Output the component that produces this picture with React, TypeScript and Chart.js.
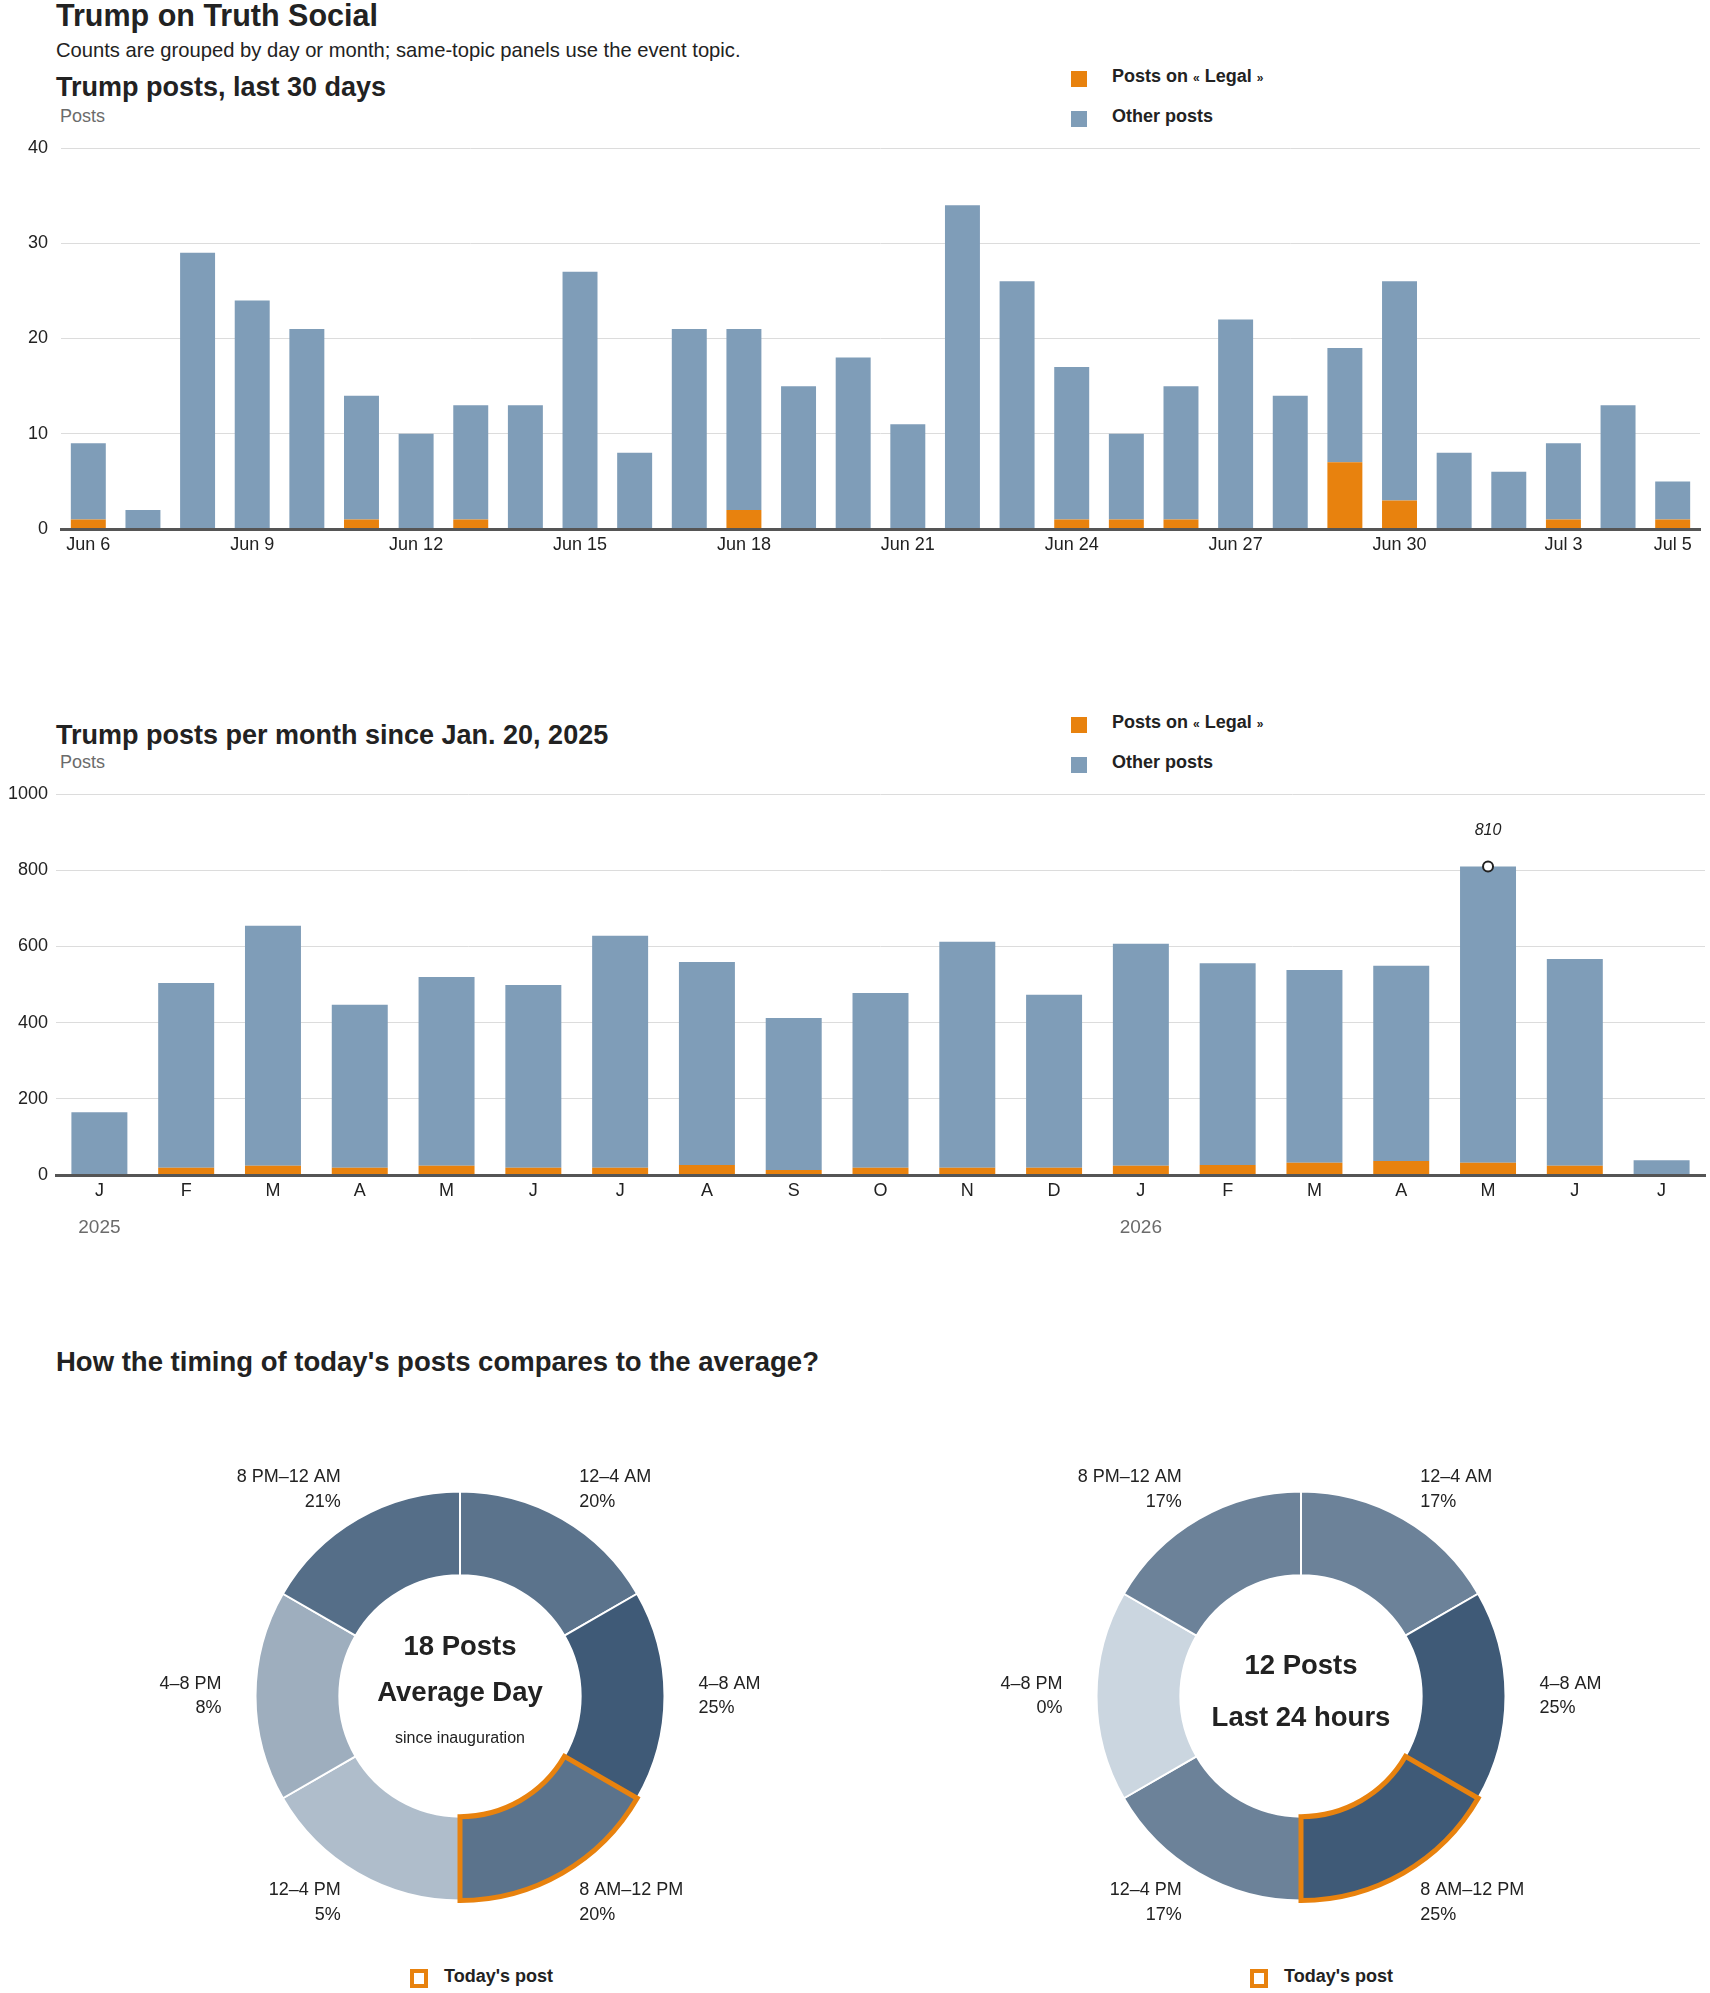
import { useEffect, useRef, type ReactNode } from 'react';
import { Chart, registerables } from 'chart.js';

Chart.register(...registerables);

const FONT = '"Liberation Sans", Arial, sans-serif';
const ORANGE = '#e8820e';
const BLUE = '#7f9db8';
const INK = '#222';
const GREY = '#6b6b6b';

Chart.defaults.font.family = FONT;
Chart.defaults.color = INK;

// last 30 days
const days = [
  'Jun 6', 'Jun 7', 'Jun 8', 'Jun 9', 'Jun 10', 'Jun 11', 'Jun 12', 'Jun 13', 'Jun 14', 'Jun 15',
  'Jun 16', 'Jun 17', 'Jun 18', 'Jun 19', 'Jun 20', 'Jun 21', 'Jun 22', 'Jun 23', 'Jun 24', 'Jun 25',
  'Jun 26', 'Jun 27', 'Jun 28', 'Jun 29', 'Jun 30', 'Jul 1', 'Jul 2', 'Jul 3', 'Jul 4', 'Jul 5',
];
const dailyLegal = [1, 0, 0, 0, 0, 1, 0, 1, 0, 0, 0, 0, 2, 0, 0, 0, 0, 0, 1, 1, 1, 0, 0, 7, 3, 0, 0, 1, 0, 1];
const dailyOther = [8, 2, 29, 24, 21, 13, 10, 12, 13, 27, 8, 21, 19, 15, 18, 11, 34, 26, 16, 9, 14, 22, 14, 12, 23, 8, 6, 8, 13, 4];

// per month since inauguration
const months = ['J', 'F', 'M', 'A', 'M', 'J', 'J', 'A', 'S', 'O', 'N', 'D', 'J', 'F', 'M', 'A', 'M', 'J', 'J'];
const monthlyLegal = [0, 19, 24, 19, 24, 19, 19, 26, 13, 19, 19, 19, 24, 26, 32, 37, 32, 24, 0];
const monthlyOther = [165, 485, 630, 428, 496, 480, 609, 533, 399, 459, 593, 454, 583, 530, 506, 512, 778, 543, 39];
const yearStarts = [0, 12];
const yearNames = ['2025', '2026'];
const peakMonth = 16;

// timing of posts
const slots = ['12–4 AM', '4–8 AM', '8 AM–12 PM', '12–4 PM', '4–8 PM', '8 PM–12 AM'];
const slotHours = [4, 4, 4, 4, 4, 4];
const averageShare = [20, 25, 20, 5, 8, 21];
const todayShare = [17, 25, 25, 17, 0, 17];
const todaySlot = 2;
const averagePosts = 18;
const last24hPosts = 12;

const Text = ({ x, y, size, weight = 400, color = INK, children }: {
  x: number; y: number; size: number; weight?: number; color?: string; children: ReactNode;
}) => (
  <div
    style={{
      position: 'absolute', left: x, top: y - size / 2, fontSize: size, lineHeight: `${size}px`,
      fontWeight: weight, color, whiteSpace: 'nowrap',
    }}
  >
    {children}
  </div>
);

const Swatch = ({ x, y, color }: { x: number; y: number; color: string }) => (
  <div style={{ position: 'absolute', left: x, top: y, width: 16, height: 16, background: color }} />
);

const Legend = ({ y }: { y: number }) => (
  <>
    <Swatch x={1071} y={y - 5} color={ORANGE} />
    <Text x={1112} y={y} size={18} weight={700}>
      Posts on <span style={{ fontSize: 12 }}>«</span> Legal <span style={{ fontSize: 12 }}>»</span>
    </Text>
    <Swatch x={1071} y={y + 35} color={BLUE} />
    <Text x={1112} y={y + 40} size={18} weight={700}>Other posts</Text>
  </>
);

type BarOpts = {
  max: number; step: number; left: number; right: number; axisHeight: number;
  yPad: number; labelPad: number; label: (i: number) => string;
};

// top padding is kept above the y-axis label overhang so the plot top stays put
const barOptions = (o: BarOpts): any => ({
  responsive: false,
  animation: false,
  events: [],
  layout: { padding: { top: 26, right: o.right, left: 0, bottom: 0 } },
  plugins: { legend: { display: false }, tooltip: { enabled: false } },
  scales: {
    x: {
      stacked: true,
      grid: { display: false, drawTicks: false },
      border: { display: true, color: '#555', width: 3, z: 1 },
      ticks: {
        autoSkip: false, maxRotation: 0, padding: o.labelPad, color: INK,
        font: { size: 18 }, callback: (_v: any, i: number) => o.label(i),
      },
      afterFit: (s: any) => { s.height = o.axisHeight; },
    },
    y: {
      stacked: true,
      min: 0,
      max: o.max,
      grid: { color: '#dcdcdc', drawTicks: false },
      border: { display: false },
      ticks: {
        stepSize: o.step, padding: o.yPad, color: INK, font: { size: 18 },
        callback: (v: any) => String(v),
      },
      afterFit: (s: any) => { s.width = o.left; },
    },
  },
});

const DailyChart = () => {
  const ref = useRef<HTMLCanvasElement | null>(null);

  useEffect(() => {
    if (!ref.current) return;
    const chart = new Chart(ref.current, {
      type: 'bar',
      data: {
        labels: days,
        datasets: [
          { label: 'Posts on « Legal »', data: dailyLegal, backgroundColor: ORANGE, barPercentage: 0.64, categoryPercentage: 1 },
          { label: 'Other posts', data: dailyOther, backgroundColor: BLUE, barPercentage: 0.64, categoryPercentage: 1 },
        ],
      },
      options: barOptions({
        max: 40, step: 10, left: 61, right: 10, axisHeight: 32, yPad: 13, labelPad: 5,
        label: (i) => (i % 3 === 0 || i === days.length - 1 ? days[i] : ''),
      }),
    });
    return () => chart.destroy();
  }, []);

  return <canvas ref={ref} width={1710} height={439} style={{ position: 'absolute', left: 0, top: 122 }} />;
};

// year captions under January and the marker on the busiest month
const monthExtras = {
  id: 'monthExtras',
  afterDraw(chart: any) {
    const { ctx, chartArea, scales } = chart;
    ctx.save();
    ctx.font = `19px ${FONT}`;
    ctx.fillStyle = GREY;
    ctx.textAlign = 'center';
    ctx.textBaseline = 'middle';
    yearStarts.forEach((idx, k) => {
      ctx.fillText(yearNames[k], scales.x.getPixelForValue(idx), chartArea.bottom + 53);
    });

    const total = monthlyLegal[peakMonth] + monthlyOther[peakMonth];
    const px = scales.x.getPixelForValue(peakMonth);
    const py = scales.y.getPixelForValue(total);
    ctx.beginPath();
    ctx.arc(px, py, 5, 0, Math.PI * 2);
    ctx.fillStyle = '#fff';
    ctx.fill();
    ctx.lineWidth = 2;
    ctx.strokeStyle = INK;
    ctx.stroke();
    ctx.font = `italic 16px ${FONT}`;
    ctx.fillStyle = INK;
    ctx.fillText(String(total), px, py - 36);
    ctx.restore();
  },
};

const MonthlyChart = () => {
  const ref = useRef<HTMLCanvasElement | null>(null);

  useEffect(() => {
    if (!ref.current) return;
    const chart = new Chart(ref.current, {
      type: 'bar',
      data: {
        labels: months,
        datasets: [
          { label: 'Posts on « Legal »', data: monthlyLegal, backgroundColor: ORANGE, barPercentage: 0.645, categoryPercentage: 1 },
          { label: 'Other posts', data: monthlyOther, backgroundColor: BLUE, barPercentage: 0.645, categoryPercentage: 1 },
        ],
      },
      options: barOptions({
        max: 1000, step: 200, left: 56, right: 5, axisHeight: 73, yPad: 8, labelPad: 5,
        label: (i) => months[i],
      }),
      plugins: [monthExtras],
    });
    return () => chart.destroy();
  }, []);

  return <canvas ref={ref} width={1710} height={480} style={{ position: 'absolute', left: 0, top: 768 }} />;
};

const LIGHT = [203, 214, 224];
const DARK = [63, 90, 119];
const topShare = Math.max(...averageShare, ...todayShare);
const shade = (pct: number) => {
  const t = pct / topShare;
  const c = LIGHT.map((l, k) => Math.round(l + (DARK[k] - l) * t));
  return `rgb(${c[0]}, ${c[1]}, ${c[2]})`;
};

type CenterLine = { text: string; size: number; bold: boolean; dy: number };

const donutDecor = (shares: number[], lines: CenterLine[]) => ({
  id: 'donutDecor',
  afterDatasetsDraw(chart: any) {
    const { ctx } = chart;
    const arcs = chart.getDatasetMeta(0).data;
    ctx.save();
    ctx.font = `18px ${FONT}`;
    ctx.fillStyle = INK;
    ctx.textBaseline = 'middle';
    arcs.forEach((el: any, i: number) => {
      const { x, y, startAngle, endAngle, outerRadius } = el.getProps(
        ['x', 'y', 'startAngle', 'endAngle', 'outerRadius'], true,
      );
      const mid = (startAngle + endAngle) / 2;
      const r = outerRadius + 34;
      const lx = x + r * Math.cos(mid);
      const ly = y + r * Math.sin(mid);
      ctx.textAlign = Math.cos(mid) >= 0 ? 'left' : 'right';
      ctx.fillText(slots[i], lx, ly - 12.3);
      ctx.fillText(`${shares[i]}%`, lx, ly + 12.3);
    });

    const hl = arcs[todaySlot].getProps(
      ['x', 'y', 'startAngle', 'endAngle', 'innerRadius', 'outerRadius'], true,
    );
    ctx.beginPath();
    ctx.arc(hl.x, hl.y, hl.outerRadius, hl.startAngle, hl.endAngle);
    ctx.arc(hl.x, hl.y, hl.innerRadius, hl.endAngle, hl.startAngle, true);
    ctx.closePath();
    ctx.lineWidth = 5;
    ctx.lineJoin = 'miter';
    ctx.strokeStyle = ORANGE;
    ctx.stroke();

    ctx.textAlign = 'center';
    lines.forEach((ln) => {
      ctx.font = `${ln.bold ? 'bold ' : ''}${ln.size}px ${FONT}`;
      ctx.fillText(ln.text, hl.x, hl.y + ln.dy);
    });
    ctx.restore();
  },
});

const TimingDonut = ({ shares, lines, left }: { shares: number[]; lines: CenterLine[]; left: number }) => {
  const ref = useRef<HTMLCanvasElement | null>(null);

  useEffect(() => {
    if (!ref.current) return;
    const chart = new Chart(ref.current, {
      type: 'doughnut',
      data: {
        labels: slots,
        datasets: [{
          data: slotHours,
          backgroundColor: shares.map(shade),
          borderColor: '#fff',
          borderWidth: 2,
        }],
      },
      options: {
        responsive: false,
        animation: false,
        events: [],
        cutout: '59%',
        layout: { padding: { left: 144.5, right: 144.5, top: 54.5, bottom: 54.5 } },
        plugins: { legend: { display: false }, tooltip: { enabled: false } },
      },
      plugins: [donutDecor(shares, lines)],
    });
    return () => chart.destroy();
  }, [shares, lines]);

  return <canvas ref={ref} width={700} height={520} style={{ position: 'absolute', left, top: 1436 }} />;
};

const TodayKey = ({ x }: { x: number }) => (
  <>
    <div
      style={{
        position: 'absolute', left: x, top: 1969, width: 18, height: 19,
        boxSizing: 'border-box', border: `4px solid ${ORANGE}`, background: '#fff',
      }}
    />
    <Text x={x + 34} y={1976} size={18} weight={700}>Today's post</Text>
  </>
);

const averageLines: CenterLine[] = [
  { text: `${averagePosts} Posts`, size: 27.5, bold: true, dy: -49 },
  { text: 'Average Day', size: 27.5, bold: true, dy: -3 },
  { text: 'since inauguration', size: 16, bold: false, dy: 43 },
];
const todayLines: CenterLine[] = [
  { text: `${last24hPosts} Posts`, size: 27.5, bold: true, dy: -30 },
  { text: 'Last 24 hours', size: 27.5, bold: true, dy: 22 },
];

export default function App() {
  return (
    <div
      style={{
        position: 'absolute', left: 0, top: 0, width: 1710, height: 1993,
        background: '#fff', fontFamily: FONT, color: INK, overflow: 'hidden',
      }}
    >
      <Text x={56} y={15} size={30.5} weight={700}>Trump on Truth Social</Text>
      <Text x={56} y={50} size={20.2}>Counts are grouped by day or month; same-topic panels use the event topic.</Text>

      <Text x={56} y={87} size={27} weight={700}>Trump posts, last 30 days</Text>
      <Text x={60} y={116} size={18} color={GREY}>Posts</Text>
      <Legend y={76} />
      <DailyChart />

      <Text x={56} y={735} size={27} weight={700}>Trump posts per month since Jan. 20, 2025</Text>
      <Text x={60} y={762} size={18} color={GREY}>Posts</Text>
      <Legend y={722} />
      <MonthlyChart />

      <Text x={56} y={1362} size={27.5} weight={700}>How the timing of today's posts compares to the average?</Text>
      <TimingDonut shares={averageShare} lines={averageLines} left={110} />
      <TimingDonut shares={todayShare} lines={todayLines} left={951} />
      <TodayKey x={410} />
      <TodayKey x={1250} />
    </div>
  );
}
